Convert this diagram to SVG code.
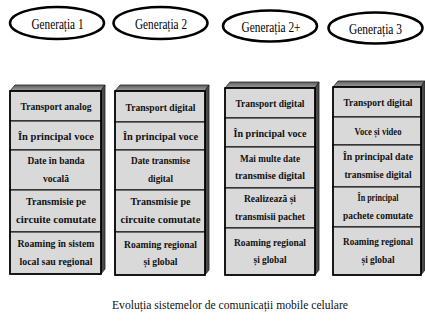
<svg xmlns="http://www.w3.org/2000/svg" width="425" height="321" viewBox="0 0 425 321">
<style>
.ell{fill:#fff;stroke:#000;stroke-width:2.5}
.gt{font-family:'Liberation Serif','Tinos','DejaVu Serif',serif;font-size:15.5px;text-anchor:middle;fill:#000}
.top{fill:url(#topg);stroke:#222;stroke-width:0.8}
.side{fill:#4a4a4a;stroke:#222;stroke-width:0.8}
.cell{fill:#d9d9d9;stroke:#000;stroke-width:1}
.outer{fill:none;stroke:#000;stroke-width:1.6}
.ct{font-family:'Liberation Serif','Tinos','DejaVu Serif',serif;font-size:10.5px;font-weight:bold;text-anchor:middle;fill:#111}
.cap{font-family:'Liberation Serif','Tinos','DejaVu Serif',serif;font-size:12px;text-anchor:middle;fill:#111}
</style>
<defs>
<linearGradient id="topg" x1="0" y1="0" x2="0" y2="1">
<stop offset="0" stop-color="#5e5e5e"/>
<stop offset="1" stop-color="#a0a0a0"/>
</linearGradient>
</defs>
<rect width="425" height="321" fill="#fff"/>

<g id="gen1">
<ellipse class="ell" cx="57" cy="23" rx="47" ry="16"/>
<text class="gt" x="57.5" y="28.5" textLength="52" lengthAdjust="spacingAndGlyphs">Generația 1</text>
</g>
<g id="gen2">
<ellipse class="ell" cx="160.5" cy="23" rx="47" ry="16"/>
<text class="gt" x="161" y="28.5" textLength="52" lengthAdjust="spacingAndGlyphs">Generația 2</text>
</g>
<g id="gen2plus">
<ellipse class="ell" cx="270" cy="26" rx="47" ry="15.5"/>
<text class="gt" x="271" y="31.5" textLength="59" lengthAdjust="spacingAndGlyphs">Generația 2+</text>
</g>
<g id="gen3">
<ellipse class="ell" cx="375.5" cy="28" rx="47" ry="15.5"/>
<text class="gt" x="375.5" y="33.5" textLength="53" lengthAdjust="spacingAndGlyphs">Generația 3</text>
</g>

<g id="col1">
<polygon class="top" points="10,91 15,85 105,85 101,91"/>
<polygon class="side" points="101,91 105,85 105,269 101,274"/>
<rect class="cell" x="10" y="91" width="91" height="30"/>
<rect class="cell" x="10" y="121" width="91" height="29"/>
<rect class="cell" x="10" y="150" width="91" height="40"/>
<rect class="cell" x="10" y="190" width="91" height="42"/>
<rect class="cell" x="10" y="232" width="91" height="42"/>
<rect class="outer" x="10" y="91" width="91" height="183"/>
<text class="ct" x="56" y="110" textLength="71" lengthAdjust="spacingAndGlyphs">Transport analog</text>
<text class="ct" x="56" y="139.5" textLength="76" lengthAdjust="spacingAndGlyphs">În principal voce</text>
<text class="ct" x="56" y="164" textLength="57" lengthAdjust="spacingAndGlyphs">Date în banda</text>
<text class="ct" x="56" y="181.5" textLength="26" lengthAdjust="spacingAndGlyphs">vocală</text>
<text class="ct" x="56" y="205" textLength="60" lengthAdjust="spacingAndGlyphs">Transmisie pe</text>
<text class="ct" x="56" y="222.5" textLength="80" lengthAdjust="spacingAndGlyphs">circuite comutate</text>
<text class="ct" x="56" y="247" textLength="77" lengthAdjust="spacingAndGlyphs">Roaming în sistem</text>
<text class="ct" x="56" y="264.5" textLength="73" lengthAdjust="spacingAndGlyphs">local sau regional</text>
</g>

<g id="col2">
<polygon class="top" points="115,91 120,85 209,85 205,91"/>
<polygon class="side" points="205,91 209,85 209,270 205,275"/>
<rect class="cell" x="115" y="91" width="90" height="31"/>
<rect class="cell" x="115" y="122" width="90" height="28"/>
<rect class="cell" x="115" y="150" width="90" height="40"/>
<rect class="cell" x="115" y="190" width="90" height="42"/>
<rect class="cell" x="115" y="232" width="90" height="43"/>
<rect class="outer" x="115" y="91" width="90" height="184"/>
<text class="ct" x="160.5" y="110.5" textLength="70" lengthAdjust="spacingAndGlyphs">Transport digital</text>
<text class="ct" x="160.5" y="140" textLength="75" lengthAdjust="spacingAndGlyphs">În principal voce</text>
<text class="ct" x="160.5" y="164" textLength="59" lengthAdjust="spacingAndGlyphs">Date transmise</text>
<text class="ct" x="160.5" y="181.5" textLength="25" lengthAdjust="spacingAndGlyphs">digital</text>
<text class="ct" x="160.5" y="205" textLength="60" lengthAdjust="spacingAndGlyphs">Transmisie pe</text>
<text class="ct" x="160.5" y="222.5" textLength="80" lengthAdjust="spacingAndGlyphs">circuite comutate</text>
<text class="ct" x="160.5" y="247.5" textLength="73" lengthAdjust="spacingAndGlyphs">Roaming regional</text>
<text class="ct" x="160.5" y="265" textLength="34" lengthAdjust="spacingAndGlyphs">și global</text>
</g>

<g id="col3">
<polygon class="top" points="225,88 230,82 319,82 315,88"/>
<polygon class="side" points="315,88 319,82 319,270 315,275"/>
<rect class="cell" x="225" y="88" width="90" height="30"/>
<rect class="cell" x="225" y="118" width="90" height="29"/>
<rect class="cell" x="225" y="147" width="90" height="41"/>
<rect class="cell" x="225" y="188" width="90" height="40"/>
<rect class="cell" x="225" y="228" width="90" height="47"/>
<rect class="outer" x="225" y="88" width="90" height="187"/>
<text class="ct" x="270" y="107" textLength="69" lengthAdjust="spacingAndGlyphs">Transport digital</text>
<text class="ct" x="270" y="136.5" textLength="73" lengthAdjust="spacingAndGlyphs">În principal voce</text>
<text class="ct" x="270" y="161.5" textLength="60" lengthAdjust="spacingAndGlyphs">Mai multe date</text>
<text class="ct" x="270" y="179" textLength="70" lengthAdjust="spacingAndGlyphs">transmise digital</text>
<text class="ct" x="270" y="202" textLength="52" lengthAdjust="spacingAndGlyphs">Realizează și</text>
<text class="ct" x="270" y="219.5" textLength="70" lengthAdjust="spacingAndGlyphs">transmisii pachet</text>
<text class="ct" x="270" y="245.5" textLength="72" lengthAdjust="spacingAndGlyphs">Roaming regional</text>
<text class="ct" x="270" y="263" textLength="33" lengthAdjust="spacingAndGlyphs">și global</text>
</g>

<g id="col4">
<polygon class="top" points="333,87 338,81 425,81 421,87"/>
<polygon class="side" points="421,87 425,81 425,270 421,275"/>
<rect class="cell" x="333" y="87" width="88" height="30"/>
<rect class="cell" x="333" y="117" width="88" height="28"/>
<rect class="cell" x="333" y="145" width="88" height="42"/>
<rect class="cell" x="333" y="187" width="88" height="40"/>
<rect class="cell" x="333" y="227" width="88" height="48"/>
<rect class="outer" x="333" y="87" width="88" height="188"/>
<text class="ct" x="378" y="106" textLength="69" lengthAdjust="spacingAndGlyphs">Transport digital</text>
<text class="ct" x="378" y="135" textLength="47" lengthAdjust="spacingAndGlyphs">Voce și video</text>
<text class="ct" x="378" y="160" textLength="70" lengthAdjust="spacingAndGlyphs">În principal date</text>
<text class="ct" x="378" y="177.5" textLength="67" lengthAdjust="spacingAndGlyphs">transmise digital</text>
<text class="ct" x="378" y="201" textLength="41" lengthAdjust="spacingAndGlyphs">În principal</text>
<text class="ct" x="378" y="218.5" textLength="70" lengthAdjust="spacingAndGlyphs">pachete comutate</text>
<text class="ct" x="378" y="245" textLength="70" lengthAdjust="spacingAndGlyphs">Roaming regional</text>
<text class="ct" x="378" y="262.5" textLength="33" lengthAdjust="spacingAndGlyphs">și global</text>
</g>

<g id="connectors"/>

<g id="caption">
<text class="cap" x="230" y="309" textLength="236" lengthAdjust="spacingAndGlyphs">Evoluția sistemelor de comunicații mobile celulare</text>
</g>
</svg>
